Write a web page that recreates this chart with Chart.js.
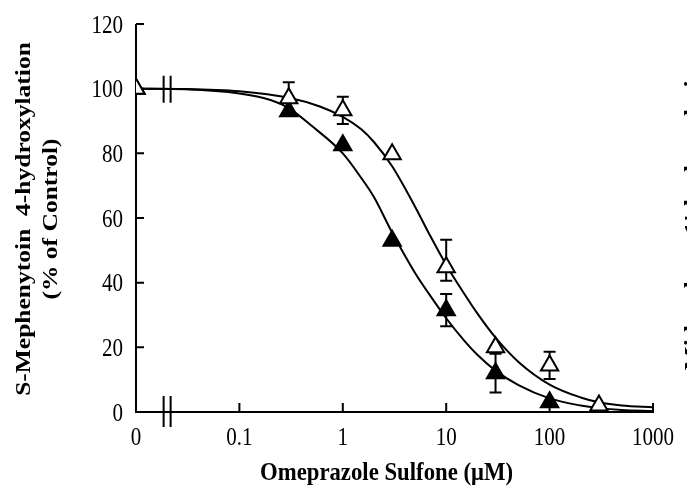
<!DOCTYPE html>
<html>
<head>
<meta charset="utf-8">
<script src="https://cdn.jsdelivr.net/npm/chart.js@4/dist/chart.umd.min.js"></script>
<style>
  html, body { margin: 0; padding: 0; background: #fff; }
  #wrap { width: 687px; height: 487px; }
</style>
</head>
<body>
<div id="wrap"><canvas id="chart" width="687" height="487"></canvas></div>
<script>
/* ===== Omeprazole sulfone inhibition plot ===== */

// a concentration of 0 can't sit on a log axis, so it is drawn at the left end
const ZERO_AT = 0.01;
const BREAK_AT = 0.02;

const xTickValues = [0.01, 0.1, 1, 10, 100, 1000];
const xTickLabels = ['0', '0.1', '1', '10', '100', '1000'];
const yTickValues = [0, 20, 40, 60, 80, 100, 120];

// measured points: open triangles
const openConc    = [0, 0.3, 1, 3, 10, 30, 100, 300];
const openMean    = [100, 97, 93.3, 79.7, 44.8, 20, 14.4, 2];
const openErrUp   = [0, 5, 4.2, 0, 8.5, 0, 4.2, 0];
const openErrDown = [0, 5, 4.2, 0, 4.2, 0, 4.2, 0];

// measured points: filled triangles
const filledConc = [0, 0.3, 1, 3, 10, 30, 100];
const filledMean = [100, 93, 82.5, 53, 31.5, 12, 3];
const filledErr  = [0, 0, 0, 0, 5, 6, 0];

// fitted curves
const openFitConc = [0.01, 0.03, 0.1, 0.3, 0.6, 1, 1.5, 2, 3, 5, 7, 10, 15, 20, 30, 50, 100, 200, 300, 500, 1000];
const openFitPct  = [100, 99.9, 99.2, 97.2, 94.5, 91.3, 87.5, 83.5, 76, 63.5, 54.5, 45.5, 36.5, 30.5, 23, 15.5, 8.5, 4.5, 3, 2, 1.5];

const filledFitConc = [0.01, 0.03, 0.1, 0.2, 0.3, 0.5, 1, 1.5, 2, 3, 5, 7, 10, 15, 20, 30, 50, 100, 200, 300, 500, 1000];
const filledFitPct  = [100, 99.8, 98.5, 96.5, 94, 88.5, 80, 72.5, 66.5, 55.5, 43, 36, 29, 22, 17.7, 12.8, 8.3, 4.2, 2, 1.2, 0.6, 0.3];

const toX = c => (c === 0 ? ZERO_AT : c);
const pts = (xs, ys) => xs.map((c, i) => ({x: toX(c), y: ys[i]}));

const SERIF = '"Liberation Serif", "Times New Roman", serif';
const TICK_FONT = '26px ' + SERIF;
const TITLE_FONT = 'bold 26px ' + SERIF;
const Y_TITLE_FONT = 'bold 25.5px ' + SERIF;
const SQUEEZE = 0.81;   // text in this figure is narrow for its height

/** horizontal text, squeezed sideways */
function narrowText(ctx, str, x, y, align, sx) {
  ctx.save();
  ctx.translate(x, y);
  ctx.scale(sx, 1);
  ctx.textAlign = align;
  ctx.textBaseline = 'alphabetic';
  ctx.fillText(str, 0, 0);
  ctx.restore();
}

/** text turned to read bottom-to-top, squeezed across its lines */
function upText(ctx, str, x, y, align) {
  ctx.save();
  ctx.translate(x, y);
  ctx.rotate(-Math.PI / 2);
  ctx.scale(1, SQUEEZE);
  ctx.textAlign = align;
  ctx.textBaseline = 'alphabetic';
  ctx.fillText(str, 0, 0);
  ctx.restore();
}

/** axes, tick marks, error bars, axis break and all the text */
const axesPlugin = {
  id: 'axesPlugin',
  beforeDatasetsDraw(chart) {
    const {ctx, scales: {x, y}} = chart;
    const x0 = x.getPixelForValue(ZERO_AT), x1 = x.getPixelForValue(1000);
    const y0 = y.getPixelForValue(0), y1 = y.getPixelForValue(120);
    ctx.save();
    ctx.strokeStyle = '#000';
    ctx.lineWidth = 2;
    ctx.beginPath();
    ctx.moveTo(x0, y1);
    ctx.lineTo(x0, y0);
    ctx.lineTo(x1 + 1, y0);
    xTickValues.slice(1).forEach(v => {
      const px = x.getPixelForValue(v);
      ctx.moveTo(px, y0);
      ctx.lineTo(px, y0 - 9);
    });
    yTickValues.slice(1).forEach(v => {
      const py = y.getPixelForValue(v);
      ctx.moveTo(x0, py);
      ctx.lineTo(x0 + 8, py);
    });
    ctx.stroke();

    // error bars (markers are drawn over them)
    const bars = (xs, ys, up, down) => {
      xs.forEach((c, i) => {
        if (!up[i] && !down[i]) return;
        const px = x.getPixelForValue(toX(c));
        const top = y.getPixelForValue(ys[i] + up[i]);
        const bot = y.getPixelForValue(ys[i] - down[i]);
        ctx.beginPath();
        ctx.moveTo(px, top); ctx.lineTo(px, bot);
        ctx.moveTo(px - 6, top); ctx.lineTo(px + 6, top);
        ctx.moveTo(px - 6, bot); ctx.lineTo(px + 6, bot);
        ctx.stroke();
      });
    };
    bars(openConc, openMean, openErrUp, openErrDown);
    bars(filledConc, filledMean, filledErr, filledErr);

    // tick labels
    ctx.fillStyle = '#000';
    ctx.font = TICK_FONT;
    yTickValues.forEach(v => {
      narrowText(ctx, String(v), x0 - 13, y.getPixelForValue(v) + 8.8, 'right', SQUEEZE);
    });
    xTickValues.forEach((v, i) => {
      narrowText(ctx, xTickLabels[i], x.getPixelForValue(v), y0 + 33, 'center', SQUEEZE);
    });
    ctx.restore();
  },
  afterDatasetsDraw(chart) {
    const {ctx, scales: {x, y}} = chart;
    const bx = x.getPixelForValue(BREAK_AT);
    const yAxis = y.getPixelForValue(0), yTop = y.getPixelForValue(100);
    ctx.save();
    ctx.strokeStyle = '#000';
    ctx.lineWidth = 2;
    ctx.beginPath();
    [-3.5, 3.5].forEach(dx => {
      ctx.moveTo(bx + dx, yAxis - 16); ctx.lineTo(bx + dx, yAxis + 15);
      ctx.moveTo(bx + dx, yTop - 13); ctx.lineTo(bx + dx, yTop + 14);
    });
    ctx.stroke();
    ctx.restore();
  },
  afterDraw(chart) {
    const {ctx} = chart;
    ctx.save();
    ctx.fillStyle = '#000';

    // x title, fitted to its printed width
    ctx.font = TITLE_FONT;
    const xTitle = 'Omeprazole Sulfone (\u03BCM)';
    const sx = 253 / ctx.measureText(xTitle).width;
    narrowText(ctx, xTitle, 386.5, 480, 'center', sx);

    // y title, two lines
    ctx.font = Y_TITLE_FONT;
    upText(ctx, 'S-Mephenytoin  4-hydroxylation', 30, 219, 'center');
    upText(ctx, '(% of Control)', 57, 219, 'center');

    // neighbouring panel's axis title, cut off by the right edge
    upText(ctx, "Midazolam  1'-hydroxylation", 698.5, 212, 'center');
    ctx.restore();
  }
};

const ctx = document.getElementById('chart').getContext('2d');
new Chart(ctx, {
  type: 'scatter',
  data: {
    datasets: [
      {
        label: 'open',
        data: pts(openConc, openMean),
        pointStyle: 'triangle',
        pointRadius: 10,
        borderWidth: 2,
        borderColor: '#000',
        backgroundColor: '#fff'
      },
      {
        label: 'filled',
        data: pts(filledConc, filledMean),
        pointStyle: 'triangle',
        pointRadius: 10,
        borderWidth: 2,
        borderColor: '#000',
        backgroundColor: '#000'
      },
      {
        label: 'open fit',
        data: pts(openFitConc, openFitPct),
        showLine: true,
        pointRadius: 0,
        borderWidth: 2,
        borderColor: '#000',
        cubicInterpolationMode: 'monotone'
      },
      {
        label: 'filled fit',
        data: pts(filledFitConc, filledFitPct),
        showLine: true,
        pointRadius: 0,
        borderWidth: 2,
        borderColor: '#000',
        cubicInterpolationMode: 'monotone'
      }
    ]
  },
  options: {
    responsive: false,
    animation: false,
    layout: { padding: { left: 0, top: 24, right: 34, bottom: 0 } },
    plugins: { legend: { display: false }, tooltip: { enabled: false } },
    scales: {
      x: {
        type: 'logarithmic',
        min: 0.01,
        max: 1000,
        grid: { display: false },
        border: { display: false },
        afterBuildTicks: s => { s.ticks = xTickValues.map(v => ({value: v})); },
        afterFit: s => { s.height = 75; },
        ticks: { display: false }
      },
      y: {
        min: 0,
        max: 120,
        grid: { display: false },
        border: { display: false },
        afterBuildTicks: s => { s.ticks = yTickValues.map(v => ({value: v})); },
        afterFit: s => { s.width = 136; },
        ticks: { display: false }
      }
    }
  },
  plugins: [axesPlugin]
});
</script>
</body>
</html>
